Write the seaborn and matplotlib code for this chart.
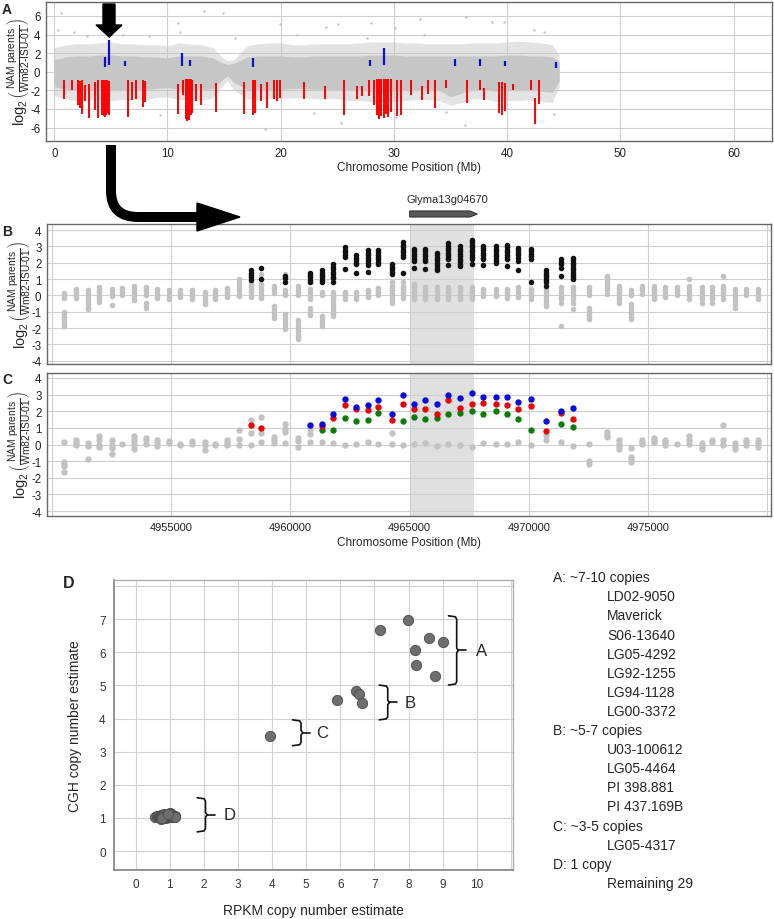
import numpy as np
import pandas as pd
import matplotlib
matplotlib.use("Agg")
import matplotlib.pyplot as plt
import matplotlib.transforms as mtransforms
from matplotlib.patches import Polygon, PathPatch
from matplotlib.path import Path
import seaborn as sns

# ---------------- panel A: whole chromosome (Mb) ----------------
a_mb = [0, 1, 2, 3, 4, 5, 6, 7, 8, 9, 10, 11, 12, 13, 14, 14.8, 15.3, 15.9, 16.4,
        17, 18, 19, 20, 21, 22, 23, 24, 25, 26, 27, 28, 29, 30, 31, 32, 33, 34,
        35, 36, 37, 38, 39, 40, 41, 42, 43, 44, 44.6]
a_core_hi = [1.3, 1.6, 1.7, 1.7, 1.8, 1.8, 1.7, 1.7, 1.6, 1.6, 1.5, 1.7, 1.7, 1.7, 1.5, 1.0,
             0.8, 0.9, 1.2, 1.6, 1.7, 1.7, 1.7, 1.6, 1.6, 1.7, 1.7, 1.7, 1.7, 1.7, 1.8, 1.8,
             1.8, 1.7, 1.7, 1.7, 1.7, 1.7, 1.7, 1.7, 1.7, 1.7, 1.8, 1.8, 1.7, 1.7, 1.6, 1.1]
a_core_lo = [-1.6, -1.9, -2.0, -2.0, -1.9, -2.0, -1.9, -1.9, -1.9, -1.8, -1.7, -1.9, -1.9, -2.0,
             -1.8, -0.9, -0.4, -1.2, -1.5, -1.9, -2.0, -1.9, -1.9, -1.8, -1.8, -1.9, -1.9, -1.9,
             -2.0, -2.0, -2.1, -2.2, -2.1, -2.0, -1.9, -1.9, -2.0, -2.7, -2.3, -1.9, -1.9, -2.1,
             -2.0, -2.0, -1.9, -2.1, -2.2, -1.0]
a_fuzz_hi = [2.6, 2.9, 3.0, 3.0, 3.1, 3.2, 3.0, 3.0, 2.9, 2.9, 2.8, 3.1, 3.0, 2.9, 2.6, 1.6,
             1.2, 1.3, 2.0, 2.8, 3.0, 3.1, 3.1, 2.9, 2.9, 3.0, 3.0, 3.0, 3.0, 3.1, 3.2, 3.2,
             3.2, 3.1, 3.1, 3.0, 3.0, 3.0, 3.0, 3.1, 3.1, 3.1, 3.2, 3.3, 3.2, 3.1, 2.9, 1.8]
a_fuzz_lo = [-2.6, -2.9, -3.1, -3.1, -3.0, -3.1, -3.0, -3.0, -3.0, -2.8, -2.7, -3.0, -3.0, -3.1,
             -2.8, -1.6, -1.0, -2.0, -2.4, -2.9, -3.0, -2.9, -2.9, -2.8, -2.8, -2.9, -2.9, -2.9,
             -3.1, -3.1, -3.2, -3.3, -3.2, -3.1, -3.0, -3.0, -3.1, -3.6, -3.3, -2.9, -2.9, -3.2,
             -3.1, -3.1, -3.0, -3.2, -3.3, -1.6]
out_mb = [0.3, 0.6, 1.7, 2.9, 6.1, 8.4, 9.3, 10.95, 11.1, 13.2, 14.9, 18.6, 19.9, 21.4, 22.9,
          25.1, 25.3, 27.6, 28.0, 30.1, 30.2, 32.3, 32.7, 34.6, 36.3, 36.4, 38.7, 39.7, 42.4,
          43.3, 44.1, 4.5, 16.0, 24.0]
out_val = [4.5, 6.3, 4.3, 3.8, 4.0, 3.8, -4.7, 5.2, 4.3, 6.5, 6.3, -6.2, 5.1, 4.0, -4.4,
           5.1, -5.5, 3.6, 5.2, 4.7, -4.9, 5.7, 4.0, -4.3, -5.7, 5.9, 5.3, 5.4, 4.5,
           4.3, -4.5, -3.6, 3.6, 4.8]
red_mb = [0.9, 1.6, 2.1, 2.25, 2.45, 2.75, 3.05, 3.6, 3.85, 4.2,
          4.35, 4.5, 4.6, 4.7, 4.85, 6.55, 6.85, 7.2, 7.8, 8.0,
          10.9, 11.35, 11.6, 11.75, 11.9, 12.05, 12.2, 12.5, 12.95, 14.3,
          16.8, 17.55, 17.7, 18.25, 18.75, 19.4, 19.65, 19.9, 22.05, 23.9,
          25.6, 26.7, 27.2, 27.8, 28.2, 28.5, 28.7, 28.9, 29.1, 29.3,
          29.5, 29.75, 30.3, 30.6, 31.5, 32.5, 33.0, 33.6, 34.6, 36.5,
          37.6, 38.0, 39.3, 39.55, 39.8, 40.5, 42.1, 42.5, 42.8]
red_top = [-0.9, -0.9, -0.9, -1.0, -0.9, -1.4, -1.3, -1.1, -0.9, -0.9,
           -0.9, -0.9, -0.9, -0.9, -1.0, -0.9, -1.1, -0.9, -0.9, -1.0,
           -1.3, -0.9, -0.8, -0.8, -0.8, -0.8, -0.9, -1.3, -1.3, -1.2,
           -1.1, -0.9, -0.9, -1.3, -1.1, -0.9, -0.9, -0.9, -1.1, -1.5,
           -0.9, -1.5, -1.5, -0.9, -0.9, -0.8, -0.8, -0.8, -0.8, -0.8,
           -0.8, -0.8, -0.9, -0.9, -0.9, -1.5, -0.9, -0.9, -0.9, -0.9,
           -0.9, -1.8, -1.1, -1.1, -1.2, -1.3, -0.9, -2.8, -0.9]
red_bot = [-2.9, -2.0, -3.6, -3.9, -4.5, -3.2, -5.0, -4.1, -5.0, -4.6,
           -4.8, -4.9, -4.7, -4.4, -4.6, -4.9, -3.0, -2.9, -3.8, -3.3,
           -4.5, -2.5, -5.1, -5.3, -5.2, -4.6, -4.4, -3.2, -3.6, -4.3,
           -4.5, -4.7, -4.4, -3.1, -3.9, -2.9, -3.1, -2.8, -2.9, -2.9,
           -4.7, -2.9, -2.6, -2.6, -3.6, -4.6, -5.1, -4.8, -5.0, -4.5,
           -4.9, -4.3, -4.8, -4.6, -2.5, -3.0, -2.4, -3.9, -1.7, -3.4,
           -2.0, -3.0, -4.4, -4.7, -4.2, -2.0, -2.0, -5.6, -3.5]
blue_mb = [4.5, 4.85, 6.25, 11.25, 11.95, 17.55, 27.9, 29.1, 35.4, 37.6, 39.85, 44.3]
blue_top = [1.6, 3.4, 1.15, 2.0, 1.25, 1.5, 1.3, 2.5, 1.35, 1.35, 1.15, 1.0]
blue_bot = [0.55, 0.7, 0.65, 0.65, 0.65, 0.55, 0.65, 0.7, 0.6, 0.6, 0.6, 0.45]

# ---------------- panels B and C: probes around Glyma13g04670 ----------------
probe_pos = [4950490, 4951020, 4951510, 4951980, 4952500, 4952930, 4953420, 4953940, 4954400,
             4954900, 4955380, 4955880, 4956400, 4956840, 4957330, 4957840, 4958340, 4958780,
             4959290, 4959790, 4960310, 4960800, 4961320, 4961800, 4962290, 4962750, 4963240,
             4963680, 4964250, 4964710, 4965160, 4965650, 4966140, 4966620, 4967110, 4967600,
             4968090, 4968620, 4969090, 4969560, 4970080, 4970700, 4971350, 4971840, 4972530,
             4973260, 4973760, 4974280, 4974730, 4975240, 4975700, 4976190, 4976720, 4977240,
             4977690, 4978150, 4978640, 4979100, 4979610]
b_gray = [
    [0.15, 0.0, -0.15, -1.0, -1.15, -1.3, -1.45, -1.6, -1.75, -1.9],
    [0.4, 0.25, 0.1, -0.05, -0.15],
    [0.3, 0.15, 0.0, -0.15, -0.3, -0.45, -0.6, -0.75, -0.85],
    [0.5, 0.35, 0.2, 0.05, -0.1, -0.25, -0.4],
    [0.4, 0.25, 0.1, -0.05, -0.6],
    [0.45, 0.3, 0.15, 0.0],
    [0.55, 0.4, 0.25, 0.1, -0.05, -0.2, -0.3],
    [0.5, 0.35, 0.2, 0.05, -0.45, -0.6, -0.75],
    [0.4, 0.25, 0.1, -0.05, -0.15],
    [0.35, 0.2, 0.05, -0.1, -0.25],
    [0.3, 0.15, 0.0, -0.1],
    [0.35, 0.2, 0.05, -0.1, -0.25],
    [0.2, 0.05, -0.1, -0.25, -0.4, -0.55],
    [0.35, 0.2, 0.05, -0.1, -0.2],
    [0.45, 0.3, 0.15, 0.0, -0.1],
    [1.0, 0.85, 0.7, 0.55, 0.4, 0.25, 0.1, -0.05],
    [0.8, 0.65, 0.5, 0.35, 0.2, 0.05, -0.1],
    [1.3, 0.7, 0.55, 0.4, 0.25, 0.1, -0.05, -0.15],
    [0.6, 0.45, 0.3, 0.15, -0.65, -0.8, -0.95, -1.1, -1.25, -1.4],
    [1.3, 0.3, 0.15, 0.0, -1.15, -1.3, -1.45, -1.6, -1.75, -1.9, -2.05],
    [0.55, 0.4, 0.25, 0.1, 0.0, -1.5, -1.65, -1.8, -1.95, -2.1, -2.25, -2.4, -2.55, -2.65],
    [0.4, 0.25, 0.1, -0.05, -0.2, -0.75, -0.9, -1.05, -1.2],
    [0.2, 0.05, -1.25, -1.4, -1.55, -1.7, -1.85],
    [0.2, 0.05, -0.1, -0.25, -0.4, -0.55, -0.7, -0.85, -1.0, -1.15, -1.25],
    [0.2, 0.05, -0.1, -0.2],
    [0.2, 0.05, -0.1, -0.2],
    [0.35, 0.2, 0.05, -0.1],
    [0.45, 0.3, 0.15, 0.0],
    [0.8, 0.6, 0.45, 0.3, 0.15, 0.0, -0.15, -0.3, -0.45],
    [0.8, 0.6, 0.45, 0.3, 0.15, 0.0, -0.15],
    [0.7, 0.5, 0.35, 0.2, 0.05, -0.1, -0.2],
    [0.5, 0.35, 0.2, 0.05, -0.1, -0.2],
    [0.5, 0.35, 0.2, 0.05, -0.1, -0.2],
    [0.5, 0.35, 0.2, 0.05, -0.1, -0.2],
    [0.5, 0.35, 0.2, 0.05, -0.1, -0.2],
    [0.5, 0.35, 0.2, 0.05, -0.1, -0.2],
    [0.4, 0.25, 0.1, -0.05],
    [0.4, 0.25, 0.1, -0.05],
    [0.4, 0.25, 0.1, -0.05, -0.15],
    [0.5, 0.35, 0.2, 0.05, -0.1],
    [0.4, 0.25, 0.1, -0.05, -0.2],
    [0.4, 0.25, 0.1, -0.05, -0.2, -0.35, -0.5, -0.65],
    [0.5, 0.35, 0.2, 0.05, -0.1, -0.25, -0.45, -1.85],
    [0.5, 0.35, 0.2, 0.05, -0.1, -0.25, -0.45, -0.85],
    [0.5, 0.35, 0.2, 0.0, -0.75, -0.9, -1.05, -1.2, -1.35, -1.45],
    [1.2, 1.05, 0.9, 0.75, 0.6, 0.45, 0.3, 0.1],
    [0.6, 0.45, 0.3, 0.15, 0.0, -0.15, -0.3, -0.45],
    [0.3, 0.15, 0.0, -0.55, -0.7, -0.85, -1.0, -1.15, -1.3, -1.45],
    [0.6, 0.45, 0.3, 0.1],
    [0.55, 0.4, 0.25, 0.1, -0.05, -0.2],
    [0.5, 0.35, 0.2, 0.05, -0.1],
    [0.5, 0.35, 0.2, 0.05],
    [1.0, 0.6, 0.45, 0.3, 0.15, 0.0, -0.2],
    [0.5, 0.35, 0.2, 0.05, -0.1, -0.25, -0.45],
    [0.5, 0.35, 0.2, 0.05, -0.1, -0.25, -0.45],
    [1.2, 0.6, 0.45, 0.3, 0.15, 0.0, -0.2],
    [0.4, 0.25, 0.1, -0.05, -0.2, -0.35, -0.5, -0.75],
    [0.4, 0.25, 0.1, 0.0],
    [0.4, 0.25, 0.1, -0.05, -0.2],
]
b_black = [
    [], [], [], [], [], [], [], [], [], [], [], [], [], [], [], [],
    [1.55, 1.4, 1.25, 1.1, 0.95],
    [1.65, 1.0],
    [],
    [1.2, 1.05, 0.85],
    [],
    [1.4, 1.25, 1.1, 0.95, 0.8],
    [1.55, 1.4, 1.25, 1.1, 0.95, 0.8],
    [1.9, 1.75, 1.6, 1.45, 1.3, 1.15, 1.05, 0.8],
    [2.95, 2.8, 2.65, 2.5, 2.35, 1.6],
    [2.45, 2.3, 2.15, 2.0, 1.9, 1.4],
    [2.75, 2.6, 2.45, 2.3, 2.15, 2.0, 1.85, 1.45],
    [2.8, 2.65, 2.5, 2.35, 2.2, 2.05, 1.9],
    [1.9, 1.75, 1.6, 1.45, 1.3],
    [3.25, 3.1, 2.95, 2.8, 2.65, 2.5, 2.35, 1.4],
    [2.85, 2.7, 2.55, 2.4, 2.25, 2.1, 1.65],
    [2.85, 2.7, 2.55, 2.4, 2.25, 2.1, 1.6],
    [2.6, 2.45, 2.3, 2.15, 2.0, 1.85, 1.7, 1.55],
    [3.2, 3.05, 2.9, 2.75, 2.6, 2.45, 2.3, 2.2, 1.85],
    [3.0, 2.85, 2.7, 2.55, 2.4, 2.25, 2.1, 1.95, 1.8],
    [3.4, 3.25, 3.1, 2.95, 2.8, 2.65, 2.5, 2.35, 2.2, 1.9],
    [3.05, 2.9, 2.75, 2.6, 2.45, 2.3, 2.2, 1.85],
    [3.0, 2.85, 2.7, 2.55, 2.4, 2.25, 2.1, 2.0],
    [3.1, 2.95, 2.8, 2.65, 2.5, 2.35, 2.2, 1.8],
    [2.9, 2.75, 2.6, 2.45, 2.3, 2.1, 1.55],
    [2.85, 2.7, 2.55, 2.4, 2.2, 0.85],
    [1.55, 1.4, 1.25, 1.1, 0.95, 0.8, 0.6],
    [2.2, 2.05, 1.9, 1.7, 1.2],
    [2.3, 2.15, 2.0, 1.85, 1.7, 1.55, 1.4, 1.25, 1.1, 1.0],
    [], [], [], [], [], [], [], [], [], [], [], [], [], [], [],
]
c_gray = [
    [0.15, -1.05, -1.2, -1.3, -1.65], [0.25, 0.1, -0.05], [0.1, -0.1, -0.85],
    [0.5, 0.25, 0.0, -0.15], [0.3, 0.0, -0.2, -0.6], [0.05], [0.5, 0.35, 0.15, 0.0, -0.3],
    [0.4, 0.25, 0.05], [0.3, 0.1, -0.1], [0.2, 0.1], [0.05, 0.0], [0.2, 0.05],
    [0.15, -0.05, -0.35], [0.05, -0.05], [0.3, 0.1, -0.05], [0.85, 0.35, 0.0],
    [1.5, 0.7, 0.0], [1.65, 0.7, 0.18], [0.45, 0.25, 0.1], [1.25, 0.95, 0.75, 0.08],
    [0.4, 0.2, -0.15], [0.95, 0.65, 0.15], [0.18], [0.12], [-0.05], [0.05], [0.18],
    [0.05], [0.7, 0.05], [0.0], [0.05], [0.12], [-0.12], [0.05], [0.0], [-0.14],
    [0.08], [0.05], [0.03], [0.15], [0.0], [0.55, 0.3], [0.15], [-0.12],
    [0.03, -1.0, -1.2], [0.75, 0.6, 0.45], [0.25, 0.05, -0.1, -0.3], [-0.2, -0.75, -0.9, -1.05],
    [0.3, 0.15, 0.02], [0.4, 0.25, 0.15], [0.3, 0.15, -0.02], [0.05], [0.5, 0.3, 0.05],
    [0.1, -0.1, -0.3], [0.3, 0.15], [1.15, 0.25, 0.05, -0.05], [0.1, -0.1, -0.3],
    [0.3, 0.15, -0.02], [0.3, 0.1, -0.15],
]
nan = np.nan
c_blue = [nan] * 21 + [1.2, 1.22, 1.85, 2.75, 2.28, 2.38, 2.65, 1.82, 3.0, 2.45, 2.7, 2.45, 3.0,
                       2.8, 3.1, 2.87, 2.87, 2.83, 2.57, 2.75, 1.42, 2.0, 2.22] + [nan] * 15
c_red = [nan] * 16 + [1.2, 0.97, nan, nan, nan, nan, 1.1, 1.6, 2.35, 2.12, 2.07, 2.25, 1.47, 2.45,
                      2.15, 2.15, 1.82, 2.7, 2.2, 2.42, 2.52, 2.45, 2.37, 2.15, 2.3, 0.8, 1.92,
                      1.52] + [nan] * 15
c_green = [nan] * 22 + [0.85, 0.85, 1.6, 1.4, 1.47, 1.92, nan, 1.4, 1.63, 1.55, 1.6, 1.85, 1.9,
                        2.0, 1.85, 2.0, 1.82, 1.55, 0.9, nan, 1.23, 1.05] + [nan] * 15
gene_start, gene_end = 4965000, 4967700

# ---------------- panel D: copy number estimates ----------------
d_rpkm = [7.17, 7.99, 8.60, 9.01, 8.20, 8.22, 8.78,
          5.90, 6.47, 6.54, 6.63,
          3.95,
          0.57, 0.62, 0.66, 0.70, 0.72, 0.74, 0.76, 0.78, 0.80, 0.82, 0.84, 0.86, 0.88, 0.90,
          0.92, 0.94, 0.96, 0.98, 1.00, 1.02, 1.04, 1.06, 1.08, 1.10, 1.12, 1.15, 1.17, 0.79, 0.95]
d_cgh = [6.67, 6.97, 6.42, 6.30, 6.08, 5.61, 5.29,
         4.57, 4.83, 4.73, 4.46,
         3.47,
         1.03, 1.05, 1.02, 1.06, 1.04, 1.08, 0.98, 1.10, 1.03, 1.07, 1.12, 1.05, 1.01, 1.08,
         1.04, 1.10, 1.02, 1.06, 1.09, 1.15, 1.12, 1.04, 1.07, 1.02, 1.05, 1.06, 1.04, 1.01, 1.13]
group_names = ["A", "B", "C", "D"]
legend_lines = [("A: ~7-10 copies", 0), ("LD02-9050", 1), ("Maverick", 1), ("S06-13640", 1),
                ("LG05-4292", 1), ("LG92-1255", 1), ("LG94-1128", 1), ("LG00-3372", 1),
                ("B: ~5-7 copies", 0), ("U03-100612", 1), ("LG05-4464", 1), ("PI 398.881", 1),
                ("PI 437.169B", 1), ("C: ~3-5 copies", 0), ("LG05-4317", 1),
                ("D: 1 copy", 0), ("Remaining 29", 1)]

# ---------------- style ----------------
sns.set_style("white")
plt.rcParams['font.family'] = ['Liberation Sans', 'DejaVu Sans']
plt.rcParams['mathtext.fontset'] = 'custom'
plt.rcParams['mathtext.rm'] = 'Liberation Sans'
plt.rcParams['mathtext.it'] = 'Liberation Sans:italic'
plt.rcParams['mathtext.bf'] = 'Liberation Sans:bold'
plt.rcParams['axes.unicode_minus'] = False

W, H = 774, 920
fig = plt.figure(figsize=(W / 100, H / 100), dpi=100)


def box(x0, y0, x1, y1):
    return [x0 / W, 1 - y1 / H, (x1 - x0) / W, (y1 - y0) / H]


def px(x, y):
    return (x / W, 1 - y / H)


def style(ax):
    for s in ax.spines.values():
        s.set_color('#666666')
        s.set_linewidth(1.0)
    ax.grid(True, color='#cfcfcf', lw=0.8)
    ax.set_axisbelow(True)
    ax.tick_params(labelsize=8.3, length=2.5, color='#555555', pad=1.5, labelcolor='#222222')


ylab = r'$\log_2\left(\frac{\text{NAM parents}}{\text{Wm82-ISU-01}}\right)$'
gray = '#c2c2c2'

# ---------- A ----------
axA = fig.add_axes(box(46, 3, 772, 142))
style(axA)
axA.fill_between(a_mb, a_fuzz_lo, a_fuzz_hi, color=gray, alpha=0.45, lw=0)
axA.fill_between(a_mb, a_core_lo, a_core_hi, color='#c6c6c6', lw=0)
sns.scatterplot(x=out_mb, y=out_val, ax=axA, s=3, color=gray, linewidth=0)
axA.vlines(red_mb, red_bot, red_top, color='#ff0000', lw=1.4)
axA.vlines(blue_mb, blue_bot, blue_top, color='#1010cc', lw=1.6)
axA.set_xlim(-0.73, 63.4)
axA.set_ylim(-7.45, 7.5)
axA.set_xticks(range(0, 70, 10))
axA.set_yticks(range(-6, 8, 2))
axA.set_xlabel("Chromosome Position (Mb)", fontsize=8.5, labelpad=2)
axA.set_ylabel(ylab, fontsize=10.5)
axA.yaxis.set_label_coords(-0.02, 0.5)

# ---------- B ----------
def long_df(lists):
    rows = [(p, v) for p, vals in zip(probe_pos, lists) for v in vals]
    return pd.DataFrame(rows, columns=["pos", "val"])


axB = fig.add_axes(box(47, 225, 771, 365))
axC = fig.add_axes(box(47, 374, 771, 517))
for ax in (axB, axC):
    style(ax)
    ax.axvspan(gene_start, gene_end, color='#e0e0e0', lw=0, zorder=0.2)
    ax.set_xlim(4949790, 4980150)
    ax.set_xticks(range(4950000, 4985000, 5000))
    ax.set_yticks(range(-4, 5))
    ax.set_ylabel(ylab, fontsize=10.5)
    ax.yaxis.set_label_coords(-0.021, 0.5)

axB.set_ylim(-4.2, 4.37)
sns.scatterplot(data=long_df(b_gray), x="pos", y="val", ax=axB, s=16, color=gray, linewidth=0)
sns.scatterplot(data=long_df(b_black), x="pos", y="val", ax=axB, s=16, color='#111111', linewidth=0)
axB.tick_params(labelbottom=False)
axB.set_xlabel("")

trans = mtransforms.blended_transform_factory(axB.transData, axB.transAxes)
arrow = Polygon([(gene_start, 1.05), (4967530, 1.05), (4967830, 1.071), (4967530, 1.093),
                 (gene_start, 1.093)], closed=True, transform=trans, clip_on=False,
                facecolor='#5a5a5a', edgecolor='#333333', lw=0.8)
axB.add_patch(arrow)
axB.text(4966600, 1.18, "Glyma13g04670", transform=trans, ha='center', va='center', fontsize=8)

# ---------- C ----------
axC.set_ylim(-4.3, 4.3)
sns.scatterplot(data=long_df(c_gray), x="pos", y="val", ax=axC, s=21, color=gray, linewidth=0)
for vals, col in ((c_green, '#0a7a0a'), (c_red, '#ee0000'), (c_blue, '#0a0ae0')):
    df = pd.DataFrame({"pos": probe_pos, "val": vals}).dropna()
    sns.scatterplot(data=df, x="pos", y="val", ax=axC, s=21, color=col, linewidth=0)
axC.set_xticklabels([""] + [str(v) for v in range(4955000, 4980000, 5000)] + [""])
axC.tick_params(axis='x', labelsize=8)
axC.set_xlabel("Chromosome Position (Mb)", fontsize=8.5, labelpad=3)

# ---------- D ----------
axD = fig.add_axes(box(114, 581, 513, 871))
sns.scatterplot(x=d_rpkm, y=d_cgh, ax=axD, s=55, color='#6e6e6e', edgecolor='#4a4a4a',
                linewidth=0.6, zorder=3)
axD.set_xlim(-0.63, 11.06)
axD.set_ylim(-0.57, 8.18)
axD.set_xticks(range(0, 12))
axD.set_xticklabels([str(i) for i in range(0, 11)] + [""])
axD.set_yticks(range(0, 9))
axD.set_yticklabels([str(i) for i in range(0, 8)] + [""])
axD.grid(True, color='#d2d2d2', lw=0.8)
axD.set_axisbelow(True)
for side in ("left", "bottom"):
    axD.spines[side].set_color('#808080')
    axD.spines[side].set_linewidth(1.2)
for side in ("top", "right"):
    axD.spines[side].set_color('#b0b0b0')
    axD.spines[side].set_linewidth(1.0)
axD.tick_params(labelsize=8.5, length=0, pad=6, labelcolor='#333333')
axD.set_xlabel("RPKM copy number estimate", fontsize=10, labelpad=9)
axD.set_ylabel("CGH copy number estimate", fontsize=10, labelpad=12)

# group brackets: vertical x, left hook x, top, bottom, tick end, label x
br_x = [9.41, 7.39, 4.85, 2.05]
br_left = [9.17, 7.14, 4.60, 1.81]
br_top = [7.10, 5.01, 3.96, 1.61]
br_bot = [5.01, 3.96, 3.18, 0.58]
br_tick = [9.68, 7.65, 5.11, 2.33]
br_lab = [10.15, 8.05, 5.48, 2.77]
for g, xv, xl, t, b, xt, xlab in zip(group_names, br_x, br_left, br_top, br_bot, br_tick, br_lab):
    m = (t + b) / 2
    axD.plot([xl, xv - 0.04, xv, xv, xv + 0.05, xv, xv, xv - 0.04, xl],
             [t, t - 0.03, t - 0.1, m + 0.07, m, m - 0.07, b + 0.1, b + 0.03, b],
             color='#111111', lw=1.2, solid_joinstyle='round')
    axD.plot([xv + 0.05, xt], [m, m], color='#111111', lw=1.2)
    axD.text(xlab, m, g, fontsize=12, ha='center', va='center')

# right-hand list
for i, (txt, indent) in enumerate(legend_lines):
    x = 607 if indent else 553
    fig.text(x / W, 1 - (578.3 + i * 19.1) / H, txt, fontsize=10, va='center', ha='left')

# panel letters
for lab, (x, y, fs) in zip("ABCD", [(7, 10.5, 10), (7, 232, 10), (7, 380, 10), (69, 584, 11.5)]):
    fig.text(x / W, 1 - y / H, lab, fontsize=fs, fontweight='bold', ha='center', va='center')

# big arrows
down = Polygon([px(103, 5), px(115, 5), px(115, 26), px(122, 26), px(109.3, 38), px(96, 26),
                px(103, 26)], closed=True, transform=fig.transFigure, color='black')
fig.patches.append(down)
curve = Path([px(111, 146), px(111, 192), px(111, 218), px(138, 218), px(200, 218)],
             [Path.MOVETO, Path.LINETO, Path.CURVE3, Path.CURVE3, Path.LINETO])
fig.patches.append(PathPatch(curve, transform=fig.transFigure, fill=False, lw=7.2,
                             edgecolor='black', capstyle='butt'))
head = Polygon([px(197, 204), px(240, 218), px(197, 232)], closed=True,
               transform=fig.transFigure, color='black')
fig.patches.append(head)

fig.savefig("out.png", dpi=100)
